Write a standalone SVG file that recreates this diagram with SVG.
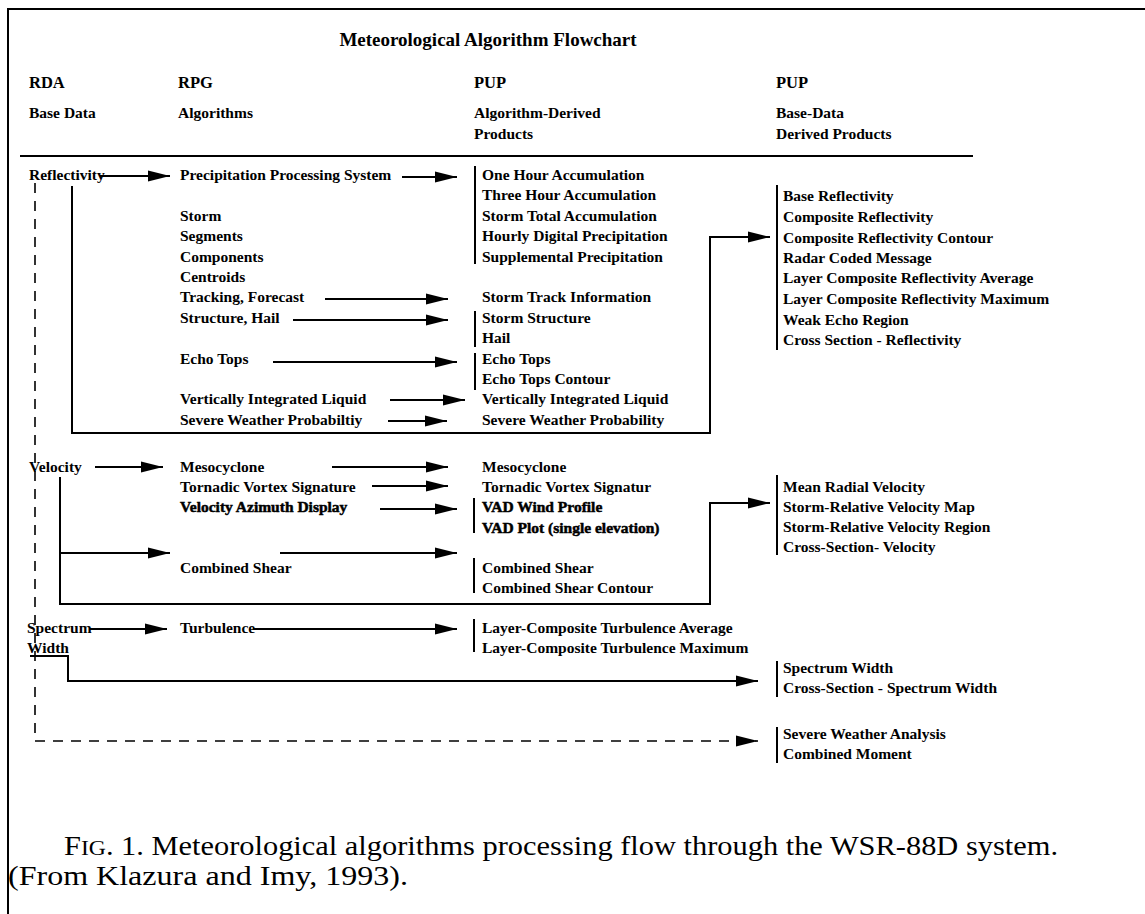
<svg xmlns="http://www.w3.org/2000/svg" width="1145" height="914" viewBox="0 0 1145 914">
<style>
text{font-family:"Liberation Serif","Times New Roman",serif;fill:#000}
.t{font-size:15.5px;font-weight:bold}
.b{font-size:15.5px;font-weight:bold;stroke:#000;stroke-width:0.5}
.h{font-size:16.5px;font-weight:bold}
.title{font-size:19px;font-weight:bold}
.cap{font-size:27px}
.ln{fill:none;stroke:#000;stroke-width:2}
.ds{fill:none;stroke:#000;stroke-width:1.6;stroke-dasharray:10 8}
.bar{stroke:#000;stroke-width:2}
</style>
<defs>
<marker id="ah" markerUnits="userSpaceOnUse" markerWidth="24" markerHeight="14" refX="22" refY="6" orient="auto">
<path d="M0,0.5 L22,6 L0,11.5 Z" fill="#000"/>
</marker>
</defs>
<rect width="1145" height="914" fill="#fff"/>
<g id="frame">
<line x1="7" y1="9" x2="1145" y2="9" class="ln"/>
<line x1="8" y1="9" x2="8" y2="914" class="ln"/>
<line x1="20" y1="156" x2="973" y2="156" class="ln"/>
</g>
<g id="header">
<text class="title" x="488" y="46" text-anchor="middle">Meteorological Algorithm Flowchart</text>
<text class="h" x="29" y="88">RDA</text>
<text class="h" x="178" y="88">RPG</text>
<text class="h" x="474" y="88">PUP</text>
<text class="h" x="776" y="88">PUP</text>
<text class="t" x="29" y="118">Base Data</text>
<text class="t" x="178" y="118">Algorithms</text>
<text class="t" x="474" y="118">Algorithm-Derived</text>
<text class="t" x="474" y="139">Products</text>
<text class="t" x="776" y="118">Base-Data</text>
<text class="t" x="776" y="139">Derived Products</text>
</g>
<g id="connectors">
<line x1="100" y1="176" x2="170" y2="176" class="ln" marker-end="url(#ah)"/>
<line x1="402" y1="177" x2="457" y2="177" class="ln" marker-end="url(#ah)"/>
<line x1="325" y1="299" x2="448" y2="299" class="ln" marker-end="url(#ah)"/>
<line x1="293" y1="320" x2="448" y2="320" class="ln" marker-end="url(#ah)"/>
<line x1="273" y1="362" x2="457" y2="362" class="ln" marker-end="url(#ah)"/>
<line x1="390" y1="400" x2="465" y2="400" class="ln" marker-end="url(#ah)"/>
<line x1="388" y1="421" x2="447" y2="421" class="ln" marker-end="url(#ah)"/>
<path d="M72,186 V433 H710 V237 H770" class="ln" marker-end="url(#ah)"/>
<line x1="95" y1="467" x2="163" y2="467" class="ln" marker-end="url(#ah)"/>
<line x1="332" y1="467" x2="448" y2="467" class="ln" marker-end="url(#ah)"/>
<line x1="372" y1="486" x2="448" y2="486" class="ln" marker-end="url(#ah)"/>
<line x1="380" y1="509" x2="457" y2="509" class="ln" marker-end="url(#ah)"/>
<path d="M60,477 V604 H710 V503 H770" class="ln" marker-end="url(#ah)"/>
<line x1="60" y1="553" x2="170" y2="553" class="ln" marker-end="url(#ah)"/>
<line x1="280" y1="553" x2="457" y2="553" class="ln" marker-end="url(#ah)"/>
<line x1="90" y1="629" x2="167" y2="629" class="ln" marker-end="url(#ah)"/>
<line x1="253" y1="629" x2="457" y2="629" class="ln" marker-end="url(#ah)"/>
<path d="M30,656 H68 V681 H758" class="ln" marker-end="url(#ah)"/>
<path d="M35,183 V741 H758" class="ds" marker-end="url(#ah)"/>
</g>
<g id="rda">
<text class="t" x="29" y="180">Reflectivity</text>
<text class="t" x="29" y="472">Velocity</text>
<text class="t" x="27" y="633">Spectrum</text>
<text class="t" x="27" y="653">Width</text>
</g>
<g id="rpg">
<text class="t" x="180" y="180">Precipitation Processing System</text>
<text class="t" x="180" y="221">Storm</text>
<text class="t" x="180" y="241">Segments</text>
<text class="t" x="180" y="262">Components</text>
<text class="t" x="180" y="282">Centroids</text>
<text class="t" x="180" y="302">Tracking, Forecast</text>
<text class="t" x="180" y="323">Structure, Hail</text>
<text class="t" x="180" y="364">Echo Tops</text>
<text class="t" x="180" y="404">Vertically Integrated Liquid</text>
<text class="t" x="180" y="425">Severe Weather Probabiltiy</text>
<text class="t" x="180" y="472">Mesocyclone</text>
<text class="t" x="180" y="492">Tornadic Vortex Signature</text>
<text class="b" x="180" y="512">Velocity Azimuth Display</text>
<text class="t" x="180" y="573">Combined Shear</text>
<text class="t" x="180" y="633">Turbulence</text>
</g>
<g id="pup-algorithm-products">
<line x1="475" y1="166" x2="475" y2="264" class="bar"/>
<line x1="475" y1="311" x2="475" y2="347" class="bar"/>
<line x1="475" y1="353" x2="475" y2="390" class="bar"/>
<line x1="474" y1="498" x2="474" y2="533" class="bar"/>
<line x1="474" y1="558" x2="474" y2="593" class="bar"/>
<line x1="474" y1="619" x2="474" y2="652" class="bar"/>
<text class="t" x="482" y="180">One Hour Accumulation</text>
<text class="t" x="482" y="200">Three Hour Accumulation</text>
<text class="t" x="482" y="221">Storm Total Accumulation</text>
<text class="t" x="482" y="241">Hourly Digital Precipitation</text>
<text class="t" x="482" y="262">Supplemental Precipitation</text>
<text class="t" x="482" y="302">Storm Track Information</text>
<text class="t" x="482" y="323">Storm Structure</text>
<text class="t" x="482" y="343">Hail</text>
<text class="t" x="482" y="364">Echo Tops</text>
<text class="t" x="482" y="384">Echo Tops Contour</text>
<text class="t" x="482" y="404">Vertically Integrated Liquid</text>
<text class="t" x="482" y="425">Severe Weather Probability</text>
<text class="t" x="482" y="472">Mesocyclone</text>
<text class="t" x="482" y="492">Tornadic Vortex Signatur</text>
<text class="b" x="482" y="512">VAD Wind Profile</text>
<text class="b" x="482" y="533">VAD Plot (single elevation)</text>
<text class="t" x="482" y="573">Combined Shear</text>
<text class="t" x="482" y="593">Combined Shear Contour</text>
<text class="t" x="482" y="633">Layer-Composite Turbulence Average</text>
<text class="t" x="482" y="653">Layer-Composite Turbulence Maximum</text>
</g>
<g id="pup-base-data-products">
<line x1="777" y1="185" x2="777" y2="350" class="bar"/>
<line x1="777" y1="475" x2="777" y2="555" class="bar"/>
<line x1="777" y1="661" x2="777" y2="697" class="bar"/>
<line x1="777" y1="727" x2="777" y2="763" class="bar"/>
<text class="t" x="783" y="201">Base Reflectivity</text>
<text class="t" x="783" y="222">Composite Reflectivity</text>
<text class="t" x="783" y="243">Composite Reflectivity Contour</text>
<text class="t" x="783" y="263">Radar Coded Message</text>
<text class="t" x="783" y="283">Layer Composite Reflectivity Average</text>
<text class="t" x="783" y="304">Layer Composite Reflectivity Maximum</text>
<text class="t" x="783" y="325">Weak Echo Region</text>
<text class="t" x="783" y="345">Cross Section - Reflectivity</text>
<text class="t" x="783" y="492">Mean Radial Velocity</text>
<text class="t" x="783" y="512">Storm-Relative Velocity Map</text>
<text class="t" x="783" y="532">Storm-Relative Velocity Region</text>
<text class="t" x="783" y="552">Cross-Section- Velocity</text>
<text class="t" x="783" y="673">Spectrum Width</text>
<text class="t" x="783" y="693">Cross-Section - Spectrum Width</text>
<text class="t" x="783" y="739">Severe Weather Analysis</text>
<text class="t" x="783" y="759">Combined Moment</text>
</g>
<g id="caption">
<text class="cap" x="64" y="855" textLength="994" lengthAdjust="spacingAndGlyphs">F<tspan font-size="21">IG</tspan>. 1.  Meteorological algorithms processing flow through the WSR-88D system.</text>
<text class="cap" x="8" y="885" textLength="400" lengthAdjust="spacingAndGlyphs">(From Klazura and Imy, 1993).</text>
</g>
</svg>
